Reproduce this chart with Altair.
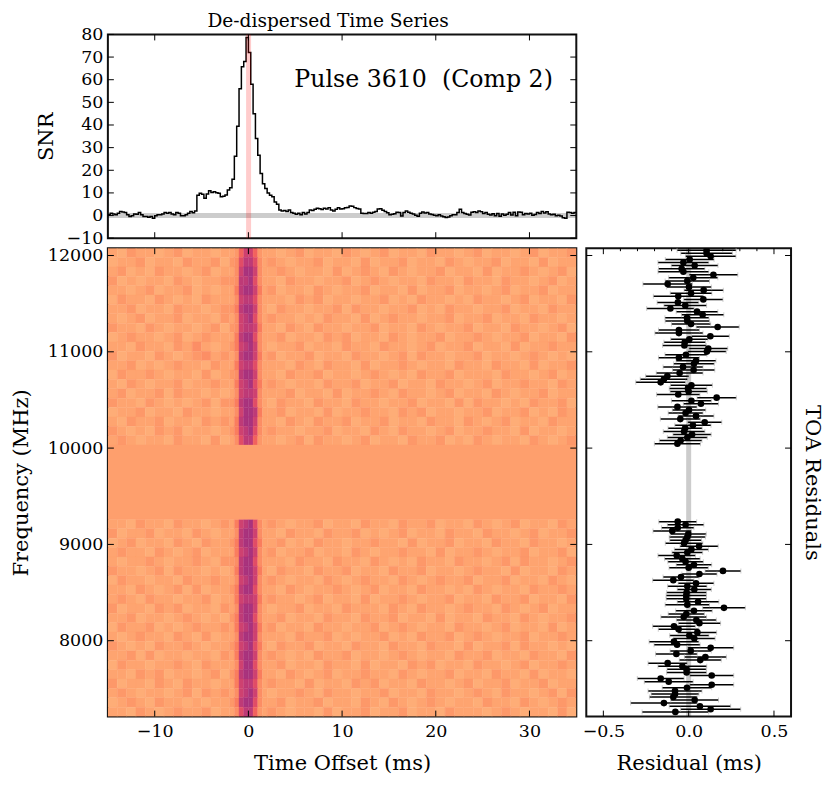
import altair as alt
import pandas as pd

FONT = "DejaVu Serif"
W, HT, HB, WR = 469, 204, 469, 205

# --- values ---
snr_values = [
 .3,1,.7,.3,1,1.8,1.6,1.3,.3,-.4,-.1,.7,.6,1.3,.3,-.4,-.4,-.7,-.4,-1.2,-.1,.3,.3,.7,1.3,1,1.3,.7,.3,1.3,1,-.1,-.1,.3,1,1.8,1.2,2,
 9,9.8,9.4,7.6,9.5,11,10.2,10.5,10.1,9.8,8.3,8.5,9.1,11.3,12.3,16,26.2,39.4,56,65.7,68,78.6,72,58,45,34,26.6,18.6,14,12,10,9,8.3,6,5,2.5,2,2.2,1.8,2.5,1.3,1,.6,1,.3,1.3,.7,1.3,2.5,2.2,2.8,3.2,
 3,2.7,3.2,2.9,3.5,2.5,2,2.8,3.4,2.9,
 3,3.4,3.6,4.2,4.1,3.5,3.1,2.9,1,.9,.9,1.3,1,1.5,1.8,2.9,3,2.3,1.8,1.2,.4,.6,.8,1.5,1.3,-.2,1.4,2,1.5,1,.7,.1,-.3,1,1.6,1.1,1.4,.7,.5,.1,-.1,.4,-.2,-.5,-.9,-.6,-.1,.4,.3,1.3,2.8,1.4,.9,.6,.2,1.5,1.7,1.4,2,1.7,.9,1.3,.6,.2,.8,-.1,.9,-.3,.7,.1,.6,1.3,.2,1.5,-.1,1.6,1.5,.4,.9,.7,1,.1,.5,1.3,.9,1.8,1.1,1.7,.7,.4,.6,-.1,.1,-.2,-1,-1.2,1.5,1.3,1,1.4,1,
]

freq_hi = [12055,12023,11991,11959,11927,11895,11863,11831,11800,11768,11736,11704,11672,11640,11608,11576,11544,11513,11481,11449,11417,11385,11353,11321,11289,11257,11226,11194,11162,11130,11098,11066,11034,11002,10970,10939,10907,10875,10843,10811,10779,10747,10715,10683,10652,10620,10588,10556,10524,10492,10460,10428,10396,10365,10333,10301,10269,10237,10205,10173,10141,10109,10078,10046]
res_hi = [.105,.105,.129,.006,-.031,.035,-.041,-.031,.145,.027,-.008,-.123,.002,.088,.014,-.061,.086,-.063,-.020,-.107,.049,.082,-.010,-.008,.014,.170,-.057,-.057,.127,.004,-.023,-.025,.115,.107,-.016,-.057,.043,.031,-.033,.029,-.053,-.125,-.145,-.164,.016,-.004,.000,-.061,.164,.016,.072,-.066,.002,-.018,.043,-.049,.094,.025,-.021,-.027,.020,-.008,-.047,-.066]
err_hi = [.173,.151,.148,.143,.149,.137,.136,.149,.143,.144,.130,.145,.131,.115,.122,.146,.115,.122,.125,.139,.122,.124,.129,.130,.115,.126,.120,.141,.111,.109,.122,.128,.114,.113,.123,.120,.117,.119,.117,.124,.137,.127,.139,.146,.123,.110,.109,.127,.115,.117,.103,.115,.098,.102,.105,.117,.100,.106,.100,.122,.112,.117,.125,.135]

freq_lo = [9236,9204,9172,9140,9108,9076,9044,9012,8980,8948,8916,8884,8852,8820,8788,8757,8725,8693,8661,8629,8597,8565,8533,8501,8469,8437,8405,8373,8341,8310,8278,8246,8214,8182,8150,8118,8086,8054,8022,7990,7958,7926,7894,7863,7831,7799,7767,7735,7703,7671,7639,7607,7575,7543,7511,7479,7447,7416,7384,7352,7320,7288,7261]
res_lo = [-.064,-.018,-.064,-.096,-.002,-.008,-.018,-.027,.061,.016,-.008,-.070,-.037,-.018,.031,.000,.201,.063,-.045,-.090,.043,-.008,.033,-.012,-.014,-.014,.055,-.008,.207,.031,-.014,-.029,.045,.063,-.086,-.059,.051,.004,.033,-.086,-.068,.129,.012,-.072,.098,.068,-.123,-.037,-.012,-.012,.135,-.164,-.117,.135,-.010,-.080,-.080,-.090,.035,-.145,.066,.129,-.078]
err_lo = [.111,.107,.095,.113,.105,.106,.093,.110,.112,.100,.090,.110,.104,.104,.104,.115,.105,.103,.105,.121,.105,.115,.100,.117,.118,.118,.122,.130,.125,.107,.106,.134,.117,.124,.125,.119,.113,.115,.122,.146,.135,.135,.121,.122,.123,.123,.115,.143,.115,.117,.129,.137,.143,.129,.145,.158,.140,.140,.140,.195,.180,.176,.195]

# Dynamic-spectrum brightness, estimated by eye in coarse cells
# (13 cells -15..-2 ms, 8 cells -2..2 ms, 33 cells 2..35 ms); 0 = pale, 9 = deep purple
spec_hi = [
"1021101201101 12577521 10120110210 12011021101 20110120112",
"0112011021120 23688631 21011201102 01120110210 11201102011",
"1201021101201 13799731 12101102012 10210112011 02011210120",
"2010110210112 23889631 10211011201 21011021102 11021101201",
"1101201120101 14899741 20110210112 01102011201 10120112011",
"0211021010211 13788631 11021201101 12010211010 21101201102",
"1120110211012 24899731 02110112021 10112010211 01120110211",
"1012011201102 13789631 21101021102 01211011201 12011021101",
"2110210110120 23788741 10210211011 20110210112 01102110120",
"0121101201211 14899631 12011021201 10210112011 21011201102",
"1102110213101 24789731 01120110211 02110120112 01102011211",
"2011021012312 13899741 20112011021 10120211011 20110121010",
"1120101211021 14788631 11021021102 01121011021 10211020112",
"0211210110201 23899731 10211201101 21010211201 11021101201",
"1021011201121 14789641 21011021120 11201102110 12011211021",
"1201120211010 13788731 11201102011 21021101201 10210112011",
"2110210101202 24899631 02110211021 10112011020 21101021120",
"0112011021101 13799841 12011020112 11021201101 12011201021",
"1021120110212 14899731 10210211201 12011021102 10120110211",
"2101021201101 24789631 21101120110 21021101201 12110201101",
"1210110211020 13688521 10120211012 01102112010 21011021012",
]
spec_lo = [
"1102110211012 14789631 21011201102 11021120110 21012011021",
"2011201102101 13899731 10211021120 10120110211 02110120112",
"0120110210211 24899641 12010211011 21102011201 10211021101",
"1211021012011 14789731 20112011021 01121102011 21011201120",
"1011210112102 23899631 11021102110 21010211021 10120211012",
"2110120211010 14899741 02110211201 10211201101 21102011021",
"0211011021121 13789731 21011021012 11021012112 01120110210",
"1102101202011 24899631 10210112101 20110211010 21011021121",
"1210211011201 14788741 21101201102 01121011201 10211201102",
"2011021201102 13899731 01120110211 10210211012 11021012011",
"1120110121010 24899631 12011021102 11201102011 02110210112",
"0211201012112 14789741 20110211011 20121011021 10120110201",
"1012110210201 13899731 11021120101 12010211201 21011201121",
"2101021121011 24789641 02112011021 10211021102 01120211010",
"1120201101102 14899731 21010211201 10121011021 12011021102",
"0211011210211 13799631 12011021102 01102120110 21101201121",
"1102120110120 24899741 10210120112 11021011201 10211020110",
"2011021021101 14788631 21102011021 20110211012 01120112011",
"1210110120212 13789731 01121021101 12011021101 21021101202",
"0121021101011 24899631 12011201102 10210121011 02110210121",
"1102101211201 13688521 21011020112 01120110211 10121011020",
]
digit_levels = [0.83, 0.81, 0.785, 0.765, 0.73, 0.67, 0.61, 0.56, 0.52, 0.47]
x_edges = [float(v) for v in range(-15, -1)] + [-1.5, -1.0, -0.5, 0.0, 0.5, 1.0, 1.5, 2.0] + [float(v) for v in range(3, 36)]

FREQ_TOP, MASK_TOP, MASK_BOT, FREQ_BOT = 12076.0, 10031.0, 9260.0, 7212.0
MASK_LEVEL = 0.80

x_ticks = [-10, 0, 10, 20, 30]
snr_ticks = list(range(-10, 90, 10))
freq_ticks = [8000, 9000, 10000, 11000, 12000]
res_ticks = [-0.5, 0.0, 0.5]
res_minor = [-0.4, -0.3, -0.2, -0.1, 0.1, 0.2, 0.3, 0.4]

# --- tables ---
step = pd.DataFrame({"t": [-15 + 0.25 * i for i in range(len(snr_values))], "snr": snr_values})

cells = []
def add_rows(rows, top, bottom):
    h = (top - bottom) / len(rows)
    for r, row in enumerate(rows):
        row = row.replace(" ", "")
        assert len(row) == len(x_edges) - 1, (r, len(row))
        for c, ch in enumerate(row):
            cells.append(dict(x0=x_edges[c], x1=x_edges[c + 1], y0=top - r * h, y1=top - (r + 1) * h, v=digit_levels[int(ch)]))
add_rows(spec_hi, FREQ_TOP, MASK_TOP)
add_rows(spec_lo, MASK_BOT, FREQ_BOT)
cells.append(dict(x0=-15.0, x1=35.0, y0=MASK_TOP, y1=MASK_BOT, v=MASK_LEVEL))
cells = pd.DataFrame(cells)

res = pd.DataFrame({"f": freq_hi + freq_lo, "r": res_hi + res_lo, "e": err_hi + err_lo})
res["lo"] = res.r - res.e
res["hi"] = res.r + res.e

# --- scales ---
xs = alt.Scale(domain=[-15, 35], nice=False, zero=False)
ys = alt.Scale(domain=[-10, 80], nice=False, zero=False)
fs = alt.Scale(domain=[FREQ_BOT, FREQ_TOP], nice=False, zero=False)
rs = alt.Scale(domain=[-0.6, 0.6], nice=False, zero=False)
cs = alt.Scale(scheme="magma", domain=[0, 1])

def ax(values, title=None, labels=True, **kw):
    kw.setdefault("labelPadding", 5)
    return alt.Axis(values=values, title=title, labels=labels, ticks=False, domain=False, grid=False,
                    labelFont=FONT, labelFontSize=17.5, labelColor="black", titleFont=FONT, titleFontSize=21,
                    titleFontWeight="normal", titleColor="black", labelFlush=False,
                    labelOverlap=False, **kw)

def ticks_x(vals, scale, H, axis, L=6, both=True):
    d = pd.DataFrame({"v": vals})
    top = alt.Chart(d).mark_rule(color="black", strokeWidth=1).encode(
        x=alt.X("v:Q", scale=scale, axis=axis), y=alt.value(0), y2=alt.value(L))
    if not both:
        return top
    bot = alt.Chart(d).mark_rule(color="black", strokeWidth=1).encode(
        x=alt.X("v:Q", scale=scale, axis=axis), y=alt.value(H - L), y2=alt.value(H))
    return top + bot

def ticks_y(vals, scale, Wd, axis, L=6):
    d = pd.DataFrame({"v": vals})
    l = alt.Chart(d).mark_rule(color="black", strokeWidth=1).encode(
        y=alt.Y("v:Q", scale=scale, axis=axis), x=alt.value(0), x2=alt.value(L))
    r = alt.Chart(d).mark_rule(color="black", strokeWidth=1).encode(
        y=alt.Y("v:Q", scale=scale, axis=axis), x=alt.value(Wd - L), x2=alt.value(Wd))
    return l + r

# --- top panel ---
ay_s = ax(snr_ticks, "SNR", titlePadding=10, format="d")
line = alt.Chart(step).mark_line(interpolate="step-after", color="black", strokeWidth=1.5, clip=True).encode(
    x=alt.X("t:Q", scale=xs, axis=None),
    y=alt.Y("snr:Q", scale=ys, axis=ay_s),
)
zero_band = alt.Chart(pd.DataFrame({"v": [0]})).mark_rule(color="black", opacity=0.2, strokeWidth=5).encode(
    y=alt.Y("v:Q", scale=ys, axis=ay_s))
red_band = alt.Chart(pd.DataFrame({"v": [0.02]})).mark_rule(color="red", opacity=0.2, strokeWidth=5).encode(
    x=alt.X("v:Q", scale=xs, axis=None))
note = alt.Chart(pd.DataFrame({"t": [4.9], "s": [59.8], "txt": ["Pulse 3610\u00a0\u00a0(Comp 2)"]})).mark_text(
    font=FONT, fontSize=23.7, align="left", baseline="middle", color="black").encode(
    x=alt.X("t:Q", scale=xs, axis=None), y=alt.Y("s:Q", scale=ys, axis=ay_s), text="txt:N")

top = (line + zero_band + red_band + note + ticks_x(x_ticks, xs, HT, None) + ticks_y(snr_ticks, ys, W, ay_s)).properties(
    width=W, height=HT,
    title=alt.TitleParams("De-dispersed Time Series", font=FONT, fontSize=18.6, fontWeight="normal", color="black", offset=-5, dx=-14))

# --- dynamic spectrum ---
ax_h = ax(x_ticks, "Time Offset (ms)", titlePadding=12, labelPadding=6, format="d")
ay_h = ax(freq_ticks, "Frequency (MHz)", titlePadding=16, format="d")
heat = alt.Chart(cells).mark_rect(strokeWidth=0.4, clip=True).encode(
    x=alt.X("x0:Q", scale=xs, axis=ax_h),
    x2="x1:Q",
    y=alt.Y("y0:Q", scale=fs, axis=ay_h),
    y2="y1:Q",
    fill=alt.Fill("v:Q", scale=cs, legend=None),
    stroke=alt.Stroke("v:Q", scale=cs, legend=None),
)
spec = (heat + ticks_x(x_ticks, xs, HB, ax_h) + ticks_y(freq_ticks, fs, W, ay_h)).properties(width=W, height=HB)

# --- residuals ---
ax_r = ax(res_ticks, "Residual (ms)", titlePadding=12, labelPadding=6, format=".1f")
ay_r = ax(freq_ticks, "TOA Residuals", labels=False, orient="right", titleAngle=90, titlePadding=10)
base = alt.Chart(res)
zero_v = alt.Chart(pd.DataFrame({"v": [0]})).mark_rule(color="black", opacity=0.2, strokeWidth=5).encode(
    x=alt.X("v:Q", scale=rs, axis=ax_r))
bars = base.mark_rule(color="black", strokeWidth=1.5, clip=True).encode(
    x=alt.X("lo:Q", scale=rs, axis=ax_r), x2="hi:Q",
    y=alt.Y("f:Q", scale=fs, axis=ay_r))
caps_l = base.mark_tick(color="#bbbbbb", thickness=1, size=5, orient="vertical", clip=True).encode(
    x=alt.X("lo:Q", scale=rs, axis=ax_r), y=alt.Y("f:Q", scale=fs, axis=ay_r))
caps_r = base.mark_tick(color="#bbbbbb", thickness=1, size=5, orient="vertical", clip=True).encode(
    x=alt.X("hi:Q", scale=rs, axis=ax_r), y=alt.Y("f:Q", scale=fs, axis=ay_r))
dots = base.mark_point(filled=True, color="black", size=44, opacity=1, clip=True).encode(
    x=alt.X("r:Q", scale=rs, axis=ax_r), y=alt.Y("f:Q", scale=fs, axis=ay_r))
right = (zero_v + bars + caps_l + caps_r + dots + ticks_x(res_ticks, rs, HB, ax_r)
         + ticks_x(res_minor, rs, HB, ax_r, L=3, both=False) + ticks_y(freq_ticks, fs, WR, ay_r)).properties(width=WR, height=HB)

chart = alt.vconcat(top, alt.hconcat(spec, right, spacing=2), spacing=-5).resolve_scale(
    x="independent", y="independent", color="independent"
).properties(padding={"left": 1, "top": 2, "right": 0, "bottom": 0}, background="white").configure_view(
    stroke="#111111", strokeWidth=2)

chart.save("out.html", embed_options={"renderer": "svg", "actions": False})
